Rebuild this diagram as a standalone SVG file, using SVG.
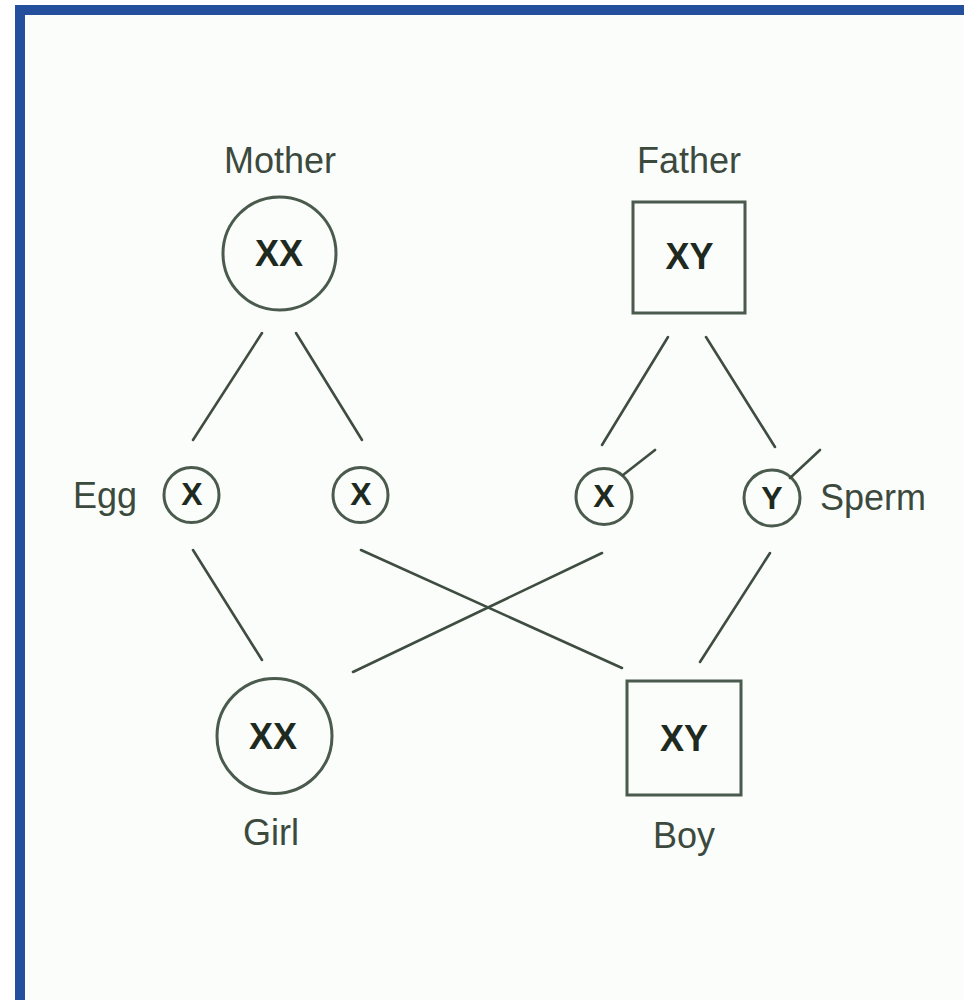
<svg xmlns="http://www.w3.org/2000/svg" width="964" height="1000" viewBox="0 0 964 1000">
<style>
.lbl{font-family:"Liberation Sans",Arial,sans-serif;font-size:36px;fill:#3c4a3e;text-anchor:middle}
.chr{font-family:"Liberation Sans",Arial,sans-serif;font-weight:bold;font-size:36px;fill:#1e2a20;text-anchor:middle}
.sm{font-family:"Liberation Sans",Arial,sans-serif;font-weight:bold;font-size:32px;fill:#1e2a20;text-anchor:middle}
.shape{fill:none;stroke:#4a5a4c;stroke-width:3}
.ln{stroke:#3f4d41;stroke-width:2.6;stroke-linecap:round;fill:none}
</style>
<rect x="0" y="0" width="964" height="1000" fill="#ffffff"/>
<rect x="25" y="15" width="939" height="985" fill="#fbfdfb"/>
<rect x="15" y="5" width="949" height="10" fill="#234f9c"/>
<rect x="15" y="5" width="10" height="995" fill="#234f9c"/>

<g id="connectors">
<line class="ln" x1="262" y1="333" x2="193" y2="440"/>
<line class="ln" x1="296" y1="333" x2="362" y2="440"/>
<line class="ln" x1="668" y1="337" x2="602" y2="445"/>
<line class="ln" x1="706" y1="337" x2="775" y2="447"/>
<line class="ln" x1="193" y1="550" x2="262" y2="660"/>
<line class="ln" x1="361" y1="550" x2="622" y2="668"/>
<line class="ln" x1="602" y1="553" x2="353" y2="672"/>
<line class="ln" x1="770" y1="553" x2="700" y2="662"/>
</g>

<g id="mother">
<text class="lbl" x="280" y="173">Mother</text>
<circle class="shape" cx="279.5" cy="253.5" r="56.5"/>
<text class="chr" x="279" y="266">XX</text>
</g>

<g id="father">
<text class="lbl" x="689" y="173">Father</text>
<rect class="shape" x="633" y="202" width="112" height="111"/>
<text class="chr" x="689.5" y="269">XY</text>
</g>

<g id="egg1">
<text class="lbl" x="105" y="508">Egg</text>
<circle class="shape" cx="191.5" cy="495" r="27.5"/>
<text class="sm" x="192" y="505">X</text>
</g>

<g id="egg2">
<circle class="shape" cx="360.5" cy="495" r="27.5"/>
<text class="sm" x="361" y="505">X</text>
</g>

<g id="spermX">
<circle class="shape" cx="604" cy="496.5" r="28"/>
<line class="ln" x1="623" y1="475" x2="655" y2="450"/>
<text class="sm" x="604" y="507">X</text>
</g>

<g id="spermY">
<circle class="shape" cx="772" cy="498" r="28"/>
<line class="ln" x1="790" y1="478" x2="820" y2="450"/>
<text class="sm" x="772" y="509">Y</text>
<text class="lbl" x="873" y="510">Sperm</text>
</g>

<g id="girl">
<circle class="shape" cx="274.5" cy="736" r="57.5"/>
<text class="chr" x="273" y="749">XX</text>
<text class="lbl" x="271" y="845">Girl</text>
</g>

<g id="boy">
<rect class="shape" x="627" y="681" width="114" height="114"/>
<text class="chr" x="684" y="751">XY</text>
<text class="lbl" x="684" y="848">Boy</text>
</g>
</svg>
